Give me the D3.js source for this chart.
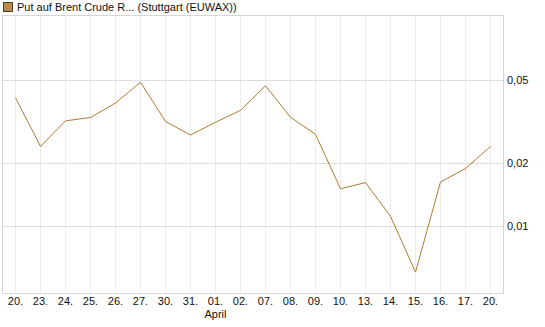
<!DOCTYPE html>
<html>
<head>
<meta charset="utf-8">
<script src="https://cdn.jsdelivr.net/npm/d3@7"></script>
<style>
  body { margin: 0; background: #fff; }
  svg text { font-family: "Liberation Sans", Arial, sans-serif; font-size: 11px; fill: #111; }
</style>
</head>
<body>
<svg id="chart" width="545" height="327"></svg>
<script>
// values (log scale)
var dayLabels = ["20.", "23.", "24.", "25.", "26.", "27.", "30.", "31.", "01.", "02.",
                 "07.", "08.", "09.", "10.", "13.", "14.", "15.", "16.", "17.", "20."];
var prices = [0.0410, 0.0240, 0.0318, 0.0330, 0.0387, 0.0487, 0.0316, 0.0272, 0.0313, 0.0357,
              0.0468, 0.0331, 0.0274, 0.01505, 0.0161, 0.0111, 0.0060, 0.0162, 0.0188, 0.0240];
var yTicks = [0.01, 0.02, 0.05];
var yTickLabels = ["0,01", "0,02", "0,05"];
var monthLabel = {index: 8, text: "April"};
var seriesName = "Put auf Brent Crude R... (Stuttgart (EUWAX))";

var svg = d3.select("#chart");
var plotL = 2.5, plotR = 503.5, plotT = 15.5, plotB = 293.5;

var x = d3.scalePoint()
  .domain(d3.range(dayLabels.length))
  .range([15.5, 490.5]);

var y = d3.scaleLog()
  .domain([0.00474, 0.1016])
  .range([plotB, plotT]);

// vertical grid
svg.append("g")
  .selectAll("line")
  .data(d3.range(dayLabels.length))
  .enter().append("line")
  .attr("x1", d => x(d)).attr("x2", d => x(d))
  .attr("y1", plotT).attr("y2", plotB)
  .style("stroke", "#ececec");

// horizontal grid
svg.append("g")
  .selectAll("line")
  .data(yTicks)
  .enter().append("line")
  .attr("x1", plotL).attr("x2", plotR)
  .attr("y1", d => Math.round(y(d)) + 0.5).attr("y2", d => Math.round(y(d)) + 0.5)
  .style("stroke", "#dcdcdc");

// frame
svg.append("rect")
  .attr("x", plotL).attr("y", plotT)
  .attr("width", plotR - plotL).attr("height", plotB - plotT)
  .style("fill", "none").style("stroke", "#d6d6d6");

// y labels (right)
svg.append("g")
  .selectAll("text")
  .data(yTicks)
  .enter().append("text")
  .attr("x", 507)
  .attr("y", d => y(d) + 4)
  .text((d, i) => yTickLabels[i]);

// x labels
svg.append("g")
  .selectAll("text")
  .data(dayLabels)
  .enter().append("text")
  .attr("x", (d, i) => x(i))
  .attr("y", 305)
  .style("text-anchor", "middle")
  .text(d => d);

svg.append("text")
  .attr("x", x(monthLabel.index))
  .attr("y", 318)
  .style("text-anchor", "middle")
  .text(monthLabel.text);

// line
var line = d3.line()
  .x((d, i) => x(i))
  .y(d => y(d));

svg.append("path")
  .datum(prices)
  .attr("d", line)
  .style("fill", "none")
  .style("stroke", "#b07a30")
  .style("stroke-width", 1);

// legend
svg.append("rect")
  .attr("x", 3.5).attr("y", 2.5)
  .attr("width", 9).attr("height", 9)
  .style("fill", "#b5894f").style("stroke", "#5a4020");

svg.append("text")
  .attr("x", 17).attr("y", 11)
  .text(seriesName);
</script>
</body>
</html>
